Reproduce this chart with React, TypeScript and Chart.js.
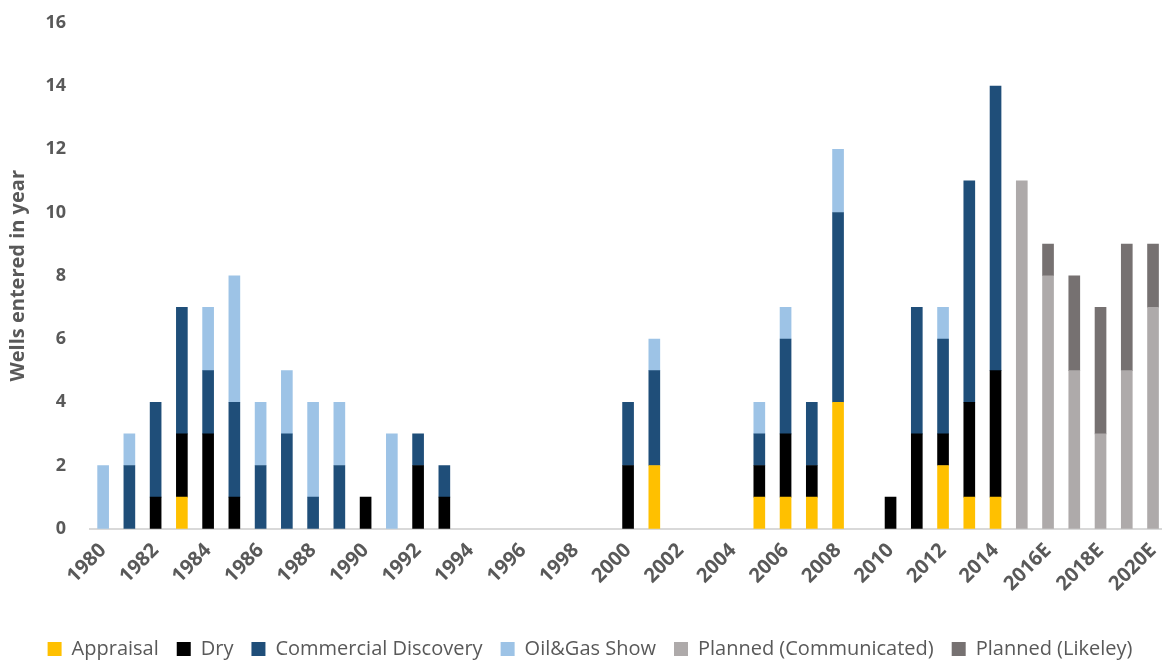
import React, { useEffect, useRef } from "react";
import { Chart, registerables } from "chart.js";

Chart.register(...registerables);

const years: string[] = [
  "1980", "1981", "1982", "1983", "1984", "1985", "1986", "1987", "1988", "1989",
  "1990", "1991", "1992", "1993", "1994", "1995", "1996", "1997", "1998", "1999",
  "2000", "2001", "2002", "2003", "2004", "2005", "2006", "2007", "2008", "2009",
  "2010", "2011", "2012", "2013", "2014", "2015E", "2016E", "2017E", "2018E", "2019E", "2020E",
];

const appraisal: number[] = [
  0, 0, 0, 1, 0, 0, 0, 0, 0, 0,
  0, 0, 0, 0, 0, 0, 0, 0, 0, 0,
  0, 2, 0, 0, 0, 1, 1, 1, 4, 0,
  0, 0, 2, 1, 1, 0, 0, 0, 0, 0, 0,
];
const dry: number[] = [
  0, 0, 1, 2, 3, 1, 0, 0, 0, 0,
  1, 0, 2, 1, 0, 0, 0, 0, 0, 0,
  2, 0, 0, 0, 0, 1, 2, 1, 0, 0,
  1, 3, 1, 3, 4, 0, 0, 0, 0, 0, 0,
];
const commercialDiscovery: number[] = [
  0, 2, 3, 4, 2, 3, 2, 3, 1, 2,
  0, 0, 1, 1, 0, 0, 0, 0, 0, 0,
  2, 3, 0, 0, 0, 1, 3, 2, 6, 0,
  0, 4, 3, 7, 9, 0, 0, 0, 0, 0, 0,
];
const oilGasShow: number[] = [
  2, 1, 0, 0, 2, 4, 2, 2, 3, 2,
  0, 3, 0, 0, 0, 0, 0, 0, 0, 0,
  0, 1, 0, 0, 0, 1, 1, 0, 2, 0,
  0, 0, 1, 0, 0, 0, 0, 0, 0, 0, 0,
];
const plannedCommunicated: number[] = [
  0, 0, 0, 0, 0, 0, 0, 0, 0, 0,
  0, 0, 0, 0, 0, 0, 0, 0, 0, 0,
  0, 0, 0, 0, 0, 0, 0, 0, 0, 0,
  0, 0, 0, 0, 0, 11, 8, 5, 3, 5, 7,
];
const plannedLikely: number[] = [
  0, 0, 0, 0, 0, 0, 0, 0, 0, 0,
  0, 0, 0, 0, 0, 0, 0, 0, 0, 0,
  0, 0, 0, 0, 0, 0, 0, 0, 0, 0,
  0, 0, 0, 0, 0, 0, 1, 3, 4, 4, 2,
];

const seriesNames: string[] = [
  "Appraisal",
  "Dry",
  "Commercial Discovery",
  "Oil&Gas Show",
  "Planned (Communicated)",
  "Planned (Likeley)",
];
const seriesColors: string[] = ["#FFC000", "#000000", "#1F4E79", "#9DC3E6", "#AEAAAA", "#767171"];
const yTicks: number[] = [0, 2, 4, 6, 8, 10, 12, 14, 16];

const textColor = "#595959";

export default function App() {
  const canvasRef = useRef<HTMLCanvasElement | null>(null);

  useEffect(() => {
    if (!canvasRef.current) return;
    const seriesData = [appraisal, dry, commercialDiscovery, oilGasShow, plannedCommunicated, plannedLikely];
    const chart = new Chart(canvasRef.current, {
      type: "bar",
      data: {
        labels: years,
        datasets: seriesNames.map((name, i) => ({
          label: name,
          // empty segments are left out so no sliver is drawn on the baseline
          data: seriesData[i].map((v) => (v === 0 ? null : v)),
          backgroundColor: seriesColors[i],
          borderWidth: 0,
          barThickness: 11,
        })),
      },
      options: {
        animation: false,
        responsive: true,
        maintainAspectRatio: false,
        layout: { padding: { left: 0, right: 0, top: 0, bottom: 2 } },
        plugins: {
          tooltip: { enabled: false },
          legend: {
            position: "bottom",
            labels: {
              boxWidth: 14,
              boxHeight: 14,
              padding: 18,
              color: textColor,
              font: { family: "Open Sans", size: 20 },
            },
          },
        },
        scales: {
          x: {
            stacked: true,
            grid: { display: false, drawTicks: false },
            border: { display: true, color: "#D9D9D9", width: 2 },
            afterFit: (axis: any) => {
              // leave a gap between the rotated year labels and the legend
              axis.height += 15;
            },
            ticks: {
              autoSkip: false,
              minRotation: 45,
              maxRotation: 45,
              padding: 10,
              color: textColor,
              font: { family: "Open Sans", size: 20, weight: "bold" },
              callback: (_v: any, i: number) => (i % 2 === 0 ? years[i] : ""),
            },
          },
          y: {
            stacked: true,
            min: 0,
            max: 16,
            afterBuildTicks: (axis: any) => {
              axis.ticks = yTicks.map((v) => ({ value: v }));
            },
            afterFit: (axis: any) => {
              axis.width = 90;
            },
            grid: { display: false, drawTicks: false },
            border: { display: false },
            title: {
              display: true,
              text: "Wells entered in year",
              color: textColor,
              font: { family: "Open Sans", size: 20, weight: "bold" },
              padding: { top: 6, bottom: 10 },
            },
            ticks: {
              padding: 24,
              color: textColor,
              font: { family: "Open Sans", size: 18, weight: "bold" },
            },
          },
        },
      },
    });
    return () => chart.destroy();
  }, []);

  return (
    <div style={{ position: "fixed", left: 0, top: -12, width: 1180, height: 683 }}>
      <canvas ref={canvasRef} />
    </div>
  );
}
